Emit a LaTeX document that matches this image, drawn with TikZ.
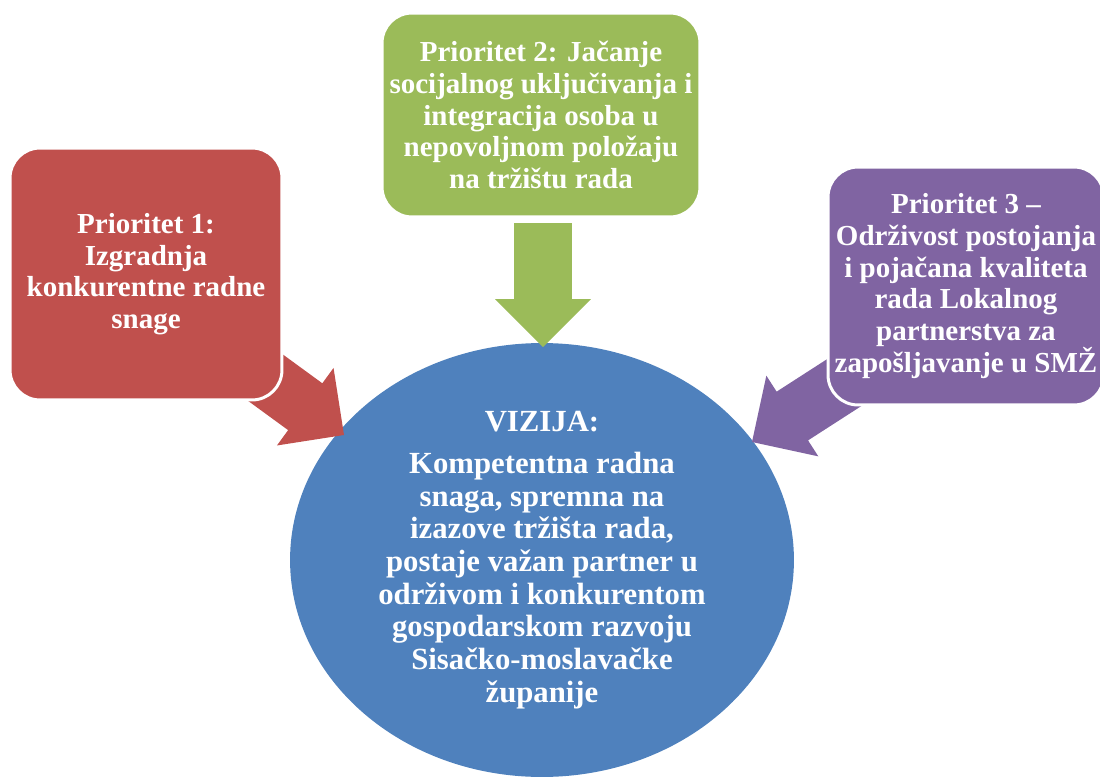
\documentclass[tikz,border=0pt]{standalone}
\usepackage{fontspec}
\setmainfont{Liberation Serif}
\usetikzlibrary{shapes.geometric,calc}
\definecolor{prired}{HTML}{C0504D}
\definecolor{prigreen}{HTML}{9BBB59}
\definecolor{pripurple}{HTML}{8064A2}
\definecolor{visblue}{HTML}{4F81BD}

\newcommand{\blockarrow}[3]{%
  \coordinate (hb) at ($(#2)!0.96cm!(#1)$);
  \fill[#3] ($(#1)!0.58cm!90:(#2)$) -- ($(hb)!0.58cm!90:(#2)$) -- ($(hb)!0.96cm!90:(#2)$) -- (#2)
    -- ($(hb)!0.96cm!-90:(#2)$) -- ($(hb)!0.58cm!-90:(#2)$) -- ($(#1)!0.58cm!-90:(#2)$) -- cycle;
}

\begin{document}
\begin{tikzpicture}[x=0.02cm,y=-0.02cm,
  prio box/.style={rectangle,rounded corners=0.6cm,draw=white,line width=0.06cm,text=white,align=center,inner sep=0pt,font=\bfseries\fontsize{16.5}{18}\selectfont},
  vis node/.style={ellipse,fill=visblue,text=white,align=center,inner sep=0pt,minimum width=10.08cm,minimum height=8.68cm,font=\bfseries\fontsize{17.5}{18.6}\selectfont}]
  \useasboundingbox (0,0) rectangle (1100,778);

  \node[vis node] (vis) at (542,560) {VIZIJA:\\[0.19cm]
    Kompetentna radna\\ snaga, spremna na\\ izazove tržišta rada,\\ postaje važan partner u\\
    održivom i konkurentom\\ gospodarskom razvoju\\ Sisačko-moslavačke\\ županije};

  \coordinate (tail1) at (244,362);
  \coordinate (tip1) at (344,435);
  \coordinate (tail2) at (543,223);
  \coordinate (tip2) at (543,347);
  \coordinate (tail3) at (856,375);
  \coordinate (tip3) at (752,442);

  \blockarrow{tail1}{tip1}{prired}
  \blockarrow{tail2}{tip2}{prigreen}
  \blockarrow{tail3}{tip3}{pripurple}

  \node[prio box,fill=prired,minimum width=5.44cm,minimum height=5.04cm] (prio1) at (146,274)
    {Prioritet 1:\\ Izgradnja\\ konkurentne radne\\ snage};
  \node[prio box,fill=prigreen,minimum width=6.36cm,minimum height=4.08cm] (prio2) at (541,115)
    {Prioritet 2: Jačanje\\ socijalnog uključivanja i\\ integracija osoba u\\ nepovoljnom položaju\\ na tržištu rada};
  \node[prio box,fill=pripurple,minimum width=5.52cm,minimum height=4.76cm] (prio3) at (966,286)
    {Prioritet 3 –\\ Održivost postojanja\\ i pojačana kvaliteta\\ rada Lokalnog\\ partnerstva za\\ zapošljavanje u SMŽ};
\end{tikzpicture}
\end{document}
